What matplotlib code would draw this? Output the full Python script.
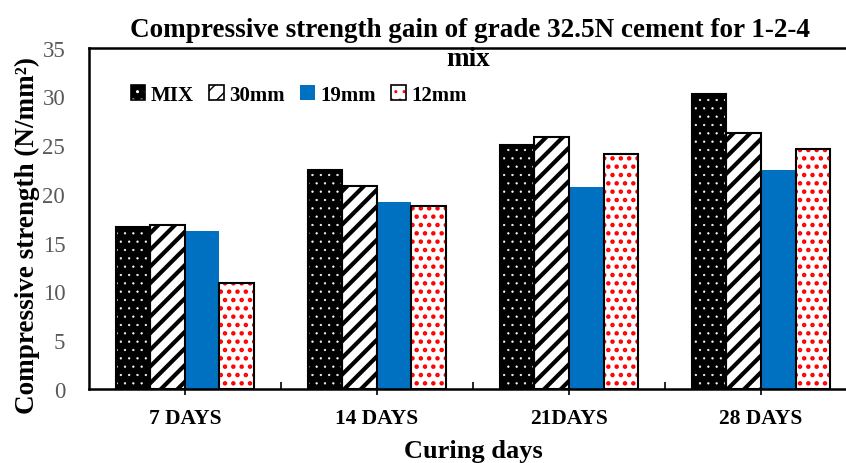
import numpy as np
import matplotlib
matplotlib.use('Agg')
import matplotlib.pyplot as plt
from matplotlib.patches import Patch
from matplotlib.legend_handler import HandlerTuple

# values
categories = ['7 DAYS', '14 DAYS', '21DAYS', '28 DAYS']
series_names = ['MIX', '30mm', '19mm', '12mm']
mix_vals = [16.6, 22.5, 25.0, 30.3]
mm30_vals = [16.8, 20.8, 25.8, 26.2]
mm19_vals = [16.2, 19.2, 20.7, 22.5]
mm12_vals = [10.9, 18.8, 24.1, 24.6]

plt.rcParams['font.family'] = ['Liberation Serif', 'DejaVu Serif']

# face colour, hatch colour, hatch pattern, hatch width for each series
styles = [
    ('black', 'white', '..', 0.4),
    ('white', 'black', '//', 3.0),
    ('#0070C0', None, None, 1.0),
    ('white', '#FF0000', '..', 2.0),
]

fig = plt.figure(figsize=(8.46, 4.64), dpi=100)
ax = fig.add_axes([0.105, 0.16, 0.908, 0.735])

x = np.arange(len(categories))
width = 0.18
all_vals = [mix_vals, mm30_vals, mm19_vals, mm12_vals]
handles = []
for i, (vals, name, (fc, hc, hatch, hlw)) in enumerate(zip(all_vals, series_names, styles)):
    pos = x + (i - 1.5) * width
    with plt.rc_context({'hatch.linewidth': hlw}):
        if hatch:
            ax.bar(pos, vals, width, color=fc, edgecolor=hc, hatch=hatch, linewidth=0, zorder=2)
            ax.bar(pos, vals, width, facecolor='none', edgecolor='black', linewidth=1.5, zorder=3)
            h = (Patch(facecolor=fc, edgecolor=hc, hatch=hatch, linewidth=0),
                 Patch(facecolor='none', edgecolor='black', linewidth=1.2))
        else:
            ax.bar(pos, vals, width, color=fc, linewidth=0, zorder=2)
            h = Patch(facecolor=fc, linewidth=0)
    handles.append(h)

ax.set_xlim(-0.5, 3.5)
ax.set_ylim(0, 35)
ax.set_yticks(range(0, 36, 5))
ax.set_xticks(x)
ax.set_xticklabels(categories, fontsize=15.5, fontweight='bold')
ax.set_xticks(x[:-1] + 0.5, minor=True)
ax.tick_params(axis='x', which='major', direction='out', length=4, width=1.2, pad=10)
ax.tick_params(axis='x', which='minor', direction='in', length=5, width=1.2)
ax.tick_params(axis='y', length=0, labelsize=16.5, labelcolor='#595959', pad=17)

for side in ['top', 'left', 'bottom']:
    ax.spines[side].set_linewidth(1.8)
ax.spines['right'].set_visible(False)

ax.set_ylabel('Compressive strength (N/mm²)', fontsize=19.5, fontweight='bold')
ax.yaxis.set_label_coords(-0.064, 0.452)
ax.set_xlabel('Curing days', fontsize=19, fontweight='bold', labelpad=8)
fig.text(0.556, 0.935, 'Compressive strength gain of grade 32.5N cement for 1-2-4',
         ha='center', va='center', fontsize=19.5, fontweight='bold')
fig.text(0.553, 0.872, 'mix', ha='center', va='center', fontsize=19.5, fontweight='bold')

ax.legend(handles, series_names, loc='center left', bbox_to_anchor=(0.03, 0.862), ncol=4,
          frameon=False, prop={'size': 15, 'weight': 'bold'},
          handlelength=0.7, handleheight=0.7, handletextpad=0.25, columnspacing=0.75,
          handler_map={tuple: HandlerTuple(ndivide=1)})

plt.savefig('out.png', dpi=100)
plt.close()
